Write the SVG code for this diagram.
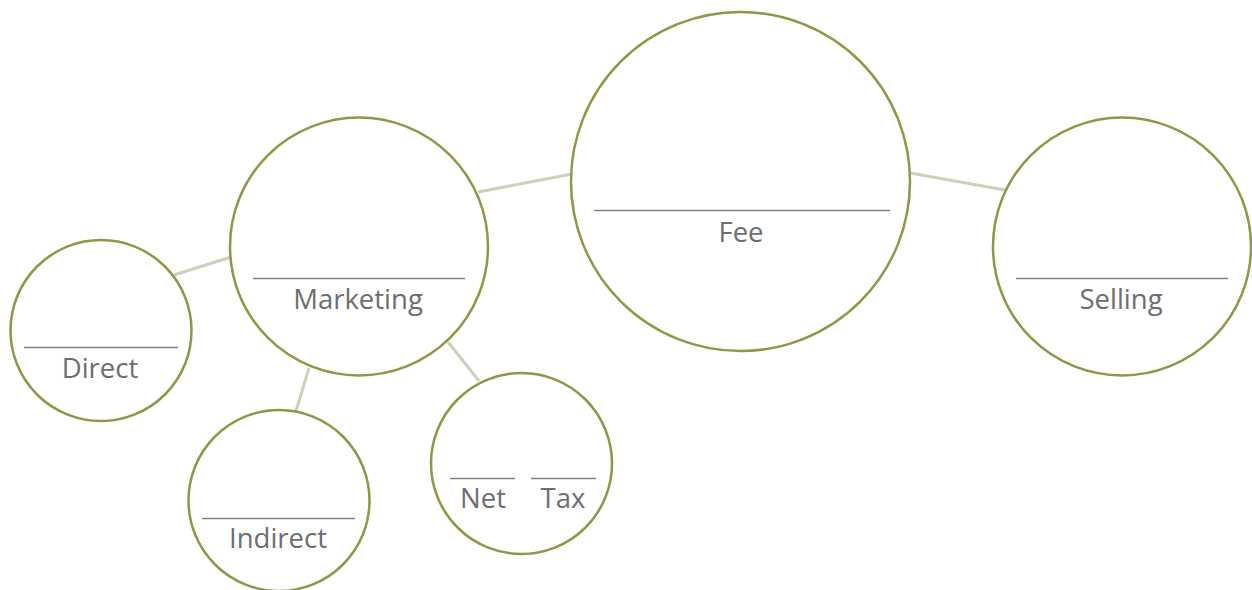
<svg xmlns="http://www.w3.org/2000/svg" width="1252" height="590" viewBox="0 0 1252 590">
  <style>
    .bubble { fill: #ffffff; stroke: #8b9a46; stroke-width: 2.5; }
    .rule { stroke: #7f7f7f; stroke-width: 1.5; }
    .link { stroke: #d3cdbb; stroke-width: 3; fill: none; }
    .label { font-family: "Open Sans", "Noto Sans", sans-serif; font-size: 27.5px; fill: #6d6e71; text-anchor: middle; }
  </style>
  <rect width="1252" height="590" fill="#ffffff"/>

  <g id="connectors">
    <line class="link" x1="478" y1="192" x2="572" y2="174"/>
    <line class="link" x1="910" y1="173" x2="1005" y2="190"/>
    <line class="link" x1="174" y1="275" x2="231" y2="257"/>
    <line class="link" x1="309" y1="368" x2="296" y2="411"/>
    <line class="link" x1="448" y1="342" x2="479" y2="381"/>
  </g>

  <g id="fee">
    <circle class="bubble" cx="740.5" cy="181.5" r="169.5"/>
    <line class="rule" x1="594" y1="210.5" x2="890" y2="210.5"/>
    <text class="label" x="741" y="242">Fee</text>
  </g>

  <g id="marketing">
    <circle class="bubble" cx="359" cy="246.5" r="129"/>
    <line class="rule" x1="253" y1="278.5" x2="465" y2="278.5"/>
    <text class="label" x="358" y="309">Marketing</text>
  </g>

  <g id="selling">
    <circle class="bubble" cx="1122" cy="246.5" r="129"/>
    <line class="rule" x1="1016" y1="278.5" x2="1228" y2="278.5"/>
    <text class="label" x="1121" y="309">Selling</text>
  </g>

  <g id="direct">
    <circle class="bubble" cx="101" cy="330.5" r="90.5"/>
    <line class="rule" x1="24" y1="347.5" x2="178" y2="347.5"/>
    <text class="label" x="100" y="378">Direct</text>
  </g>

  <g id="indirect">
    <circle class="bubble" cx="279" cy="500.5" r="90.5"/>
    <line class="rule" x1="202" y1="518.5" x2="355" y2="518.5"/>
    <text class="label" x="278" y="548">Indirect</text>
  </g>

  <g id="net-tax">
    <circle class="bubble" cx="521.5" cy="463.5" r="90.5"/>
    <line class="rule" x1="450" y1="478.5" x2="515" y2="478.5"/>
    <line class="rule" x1="531" y1="478.5" x2="596" y2="478.5"/>
    <text class="label" x="483" y="508">Net</text>
    <text class="label" x="563" y="508">Tax</text>
  </g>
</svg>
